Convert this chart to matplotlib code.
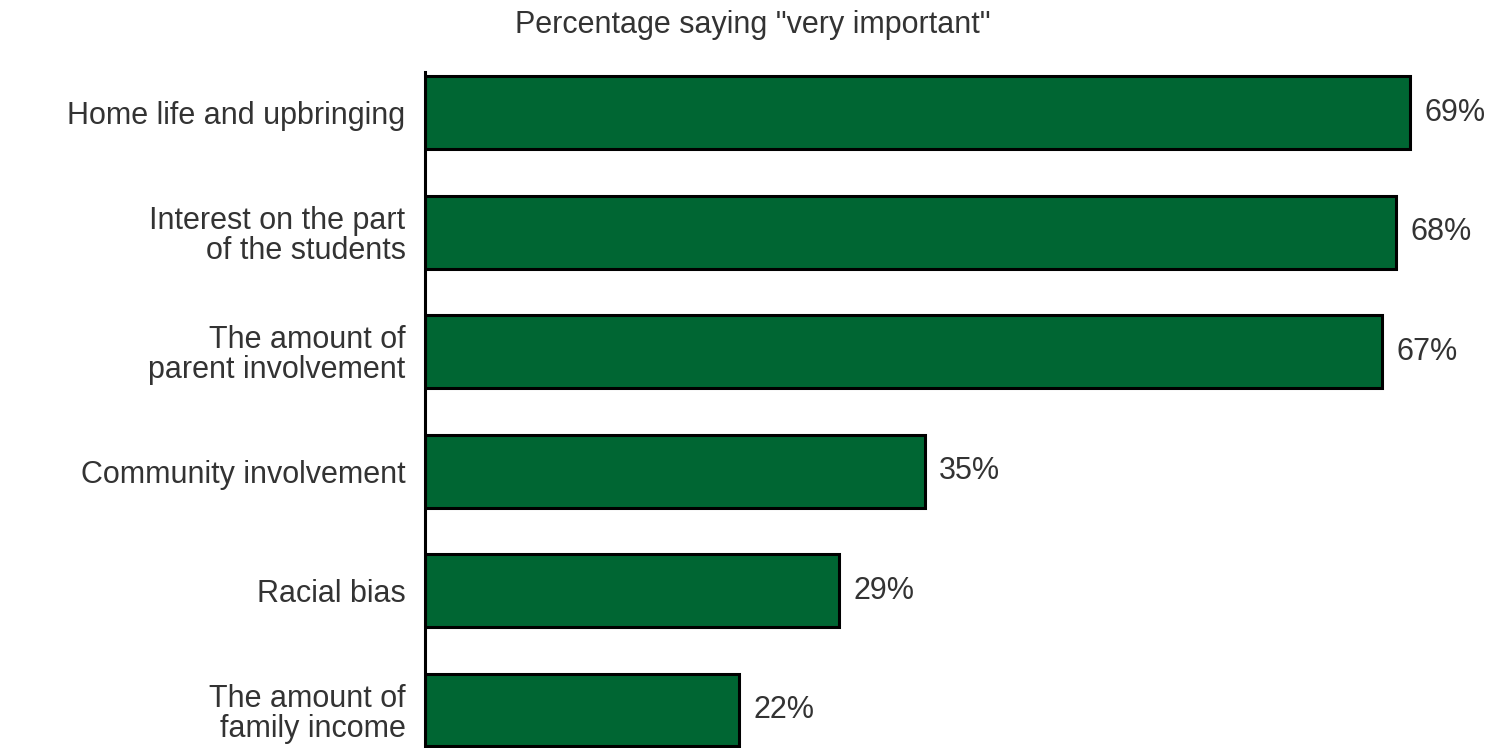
import matplotlib
matplotlib.use('Agg')
import matplotlib.pyplot as plt

categories = ['Home life and upbringing',
              'Interest on the part\nof the students',
              'The amount of\nparent involvement',
              'Community involvement',
              'Racial bias',
              'The amount of\nfamily income']
values = [69, 68, 67, 35, 29, 22]

plt.rcParams['font.family'] = ['Liberation Sans', 'DejaVu Sans']

fig = plt.figure(figsize=(15.02, 7.48), dpi=100)
ax = fig.add_axes([0.283, 0.0, 0.713, 0.904])

pos = list(range(len(categories)))
ax.barh(pos, values, height=0.61, color='#006633', edgecolor='black', linewidth=2.2)

for p, v in zip(pos, values):
    ax.text(v + 1.0, p, '%d%%' % v, va='center', ha='left', fontsize=22, color='#333333')

ax.set_xlim(0, 75)
ax.set_ylim(5.318, -0.343)
ax.set_yticks(pos)
ax.set_yticklabels(categories, fontsize=22, color='#333333', linespacing=1.0)
ax.tick_params(axis='y', length=0, pad=14)
ax.set_xticks([])
for s in ['top', 'right', 'bottom']:
    ax.spines[s].set_visible(False)
ax.spines['left'].set_linewidth(2.2)

fig.text(0.501, 0.966, 'Percentage saying "very important"', ha='center', va='center',
         fontsize=22, color='#333333')

fig.savefig('out.png', dpi=100)
